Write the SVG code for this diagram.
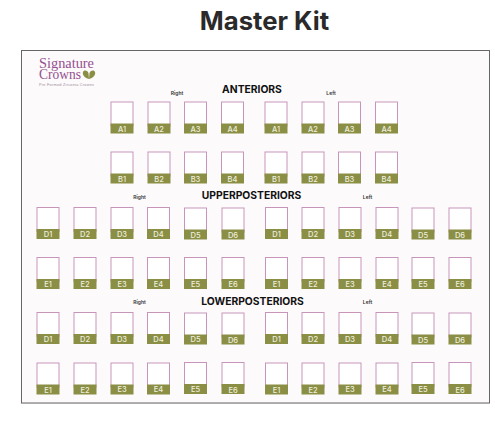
<svg xmlns="http://www.w3.org/2000/svg" width="495" height="424" viewBox="0 0 495 424">
<style>
.c{fill:#fff;stroke:#c795b9;stroke-width:1}
.b{fill:#8a8f45}
.l{font:500 7.500px Inter,"Liberation Sans",sans-serif;fill:#eeeedd;text-anchor:middle}
.h{font:700 10.300px Inter,"Liberation Sans",sans-serif;fill:#111;text-anchor:middle}
.s{font:600 5px Inter,"Liberation Sans",sans-serif;fill:#333;text-anchor:middle}
.g{font:300 15px "Liberation Serif",serif;fill:#94508f}
</style>
<defs>
<g id="k"><rect class="c" x="0.500" y="0.500" width="22" height="24"/><rect class="b" y="22" width="23" height="10"/></g>
</defs>
<rect width="495" height="424" fill="#fff"/>
<text x="264.500" y="30" font-family="Inter,'Liberation Sans',sans-serif" font-size="25.700" font-weight="700" fill="#2a2a2a" text-anchor="middle">Master Kit</text>
<g id="frame">
<rect x="21.500" y="50.500" width="468" height="352.500" fill="#fdfafc" stroke="#666" stroke-width="1"/>
<path d="M21 403.500H490" stroke="#aaa" fill="none"/>
</g>
<g id="logo">
<text class="g"><tspan x="39" y="68" textLength="55" lengthAdjust="spacingAndGlyphs">Signature</tspan><tspan x="39" y="79" textLength="42" lengthAdjust="spacingAndGlyphs">Crowns</tspan></text>
<path d="M83 72c1-2 4-2 5.500 1l.5 6c-4-1-7-4-6-7zM95 72c-1-2-4-2-5.500 1l-.5 6c4-1 7-4 6-7z" fill="#8a8f45"/>
<text x="39" y="86" font-family="'Liberation Sans',sans-serif" font-size="3.800" fill="#9a8a95" textLength="55">Pre Formed Zirconia Crowns</text>
</g>
<g id="titles">
<text class="h" x="252" y="93">ANTERIORS</text>
<text class="h" x="251.500" y="199">UPPERPOSTERIORS</text>
<text class="h" x="252.500" y="305">LOWERPOSTERIORS</text>
<text class="s" x="177" y="95">Right</text>
<text class="s" x="331" y="95">Left</text>
<text class="s" x="139.500" y="199">Right</text>
<text class="s" x="367.500" y="199">Left</text>
<text class="s" x="139.500" y="304">Right</text>
<text class="s" x="367.500" y="304">Left</text>
</g>
<g id="row-a-r">
<use href="#k" x="110.500" y="101.500"/><text class="l" x="122" y="131.500">A1</text>
<use href="#k" x="147.500" y="101.500"/><text class="l" x="159" y="131.500">A2</text>
<use href="#k" x="184" y="101.500"/><text class="l" x="195.500" y="131.500">A3</text>
<use href="#k" x="221" y="101.500"/><text class="l" x="232.500" y="131.500">A4</text>
</g>
<g id="row-a-l">
<use href="#k" x="264.500" y="101.500"/><text class="l" x="276" y="131.500">A1</text>
<use href="#k" x="301.500" y="101.500"/><text class="l" x="313" y="131.500">A2</text>
<use href="#k" x="338" y="101.500"/><text class="l" x="349.500" y="131.500">A3</text>
<use href="#k" x="375" y="101.500"/><text class="l" x="386.500" y="131.500">A4</text>
</g>
<g id="row-b-r">
<use href="#k" x="110.500" y="151.500"/><text class="l" x="122" y="181.500">B1</text>
<use href="#k" x="147.500" y="151.500"/><text class="l" x="159" y="181.500">B2</text>
<use href="#k" x="184" y="151.500"/><text class="l" x="195.500" y="181.500">B3</text>
<use href="#k" x="221" y="151.500"/><text class="l" x="232.500" y="181.500">B4</text>
</g>
<g id="row-b-l">
<use href="#k" x="264.500" y="151.500"/><text class="l" x="276" y="181.500">B1</text>
<use href="#k" x="301.500" y="151.500"/><text class="l" x="313" y="181.500">B2</text>
<use href="#k" x="338" y="151.500"/><text class="l" x="349.500" y="181.500">B3</text>
<use href="#k" x="375" y="151.500"/><text class="l" x="386.500" y="181.500">B4</text>
</g>
<g id="row-d-upper">
<use href="#k" x="36.500" y="207"/><text class="l" x="48" y="236.500">D1</text>
<use href="#k" x="73.500" y="207"/><text class="l" x="85" y="236.500">D2</text>
<use href="#k" x="110.500" y="207"/><text class="l" x="122" y="236.500">D3</text>
<use href="#k" x="147" y="207"/><text class="l" x="158.500" y="236.500">D4</text>
<use href="#k" x="184" y="207.500"/><text class="l" x="195.500" y="237.500">D5</text>
<use href="#k" x="221.500" y="207.500"/><text class="l" x="233" y="237.500">D6</text>
<use href="#k" x="265" y="207"/><text class="l" x="276.500" y="236.500">D1</text>
<use href="#k" x="301.500" y="207"/><text class="l" x="313" y="236.500">D2</text>
<use href="#k" x="338.500" y="207"/><text class="l" x="350" y="236.500">D3</text>
<use href="#k" x="375.500" y="207"/><text class="l" x="387" y="236.500">D4</text>
<use href="#k" x="411.500" y="207.500"/><text class="l" x="423" y="237.500">D5</text>
<use href="#k" x="448.500" y="207.500"/><text class="l" x="460" y="237.500">D6</text>
</g>
<g id="row-e-upper">
<use href="#k" x="36.500" y="257"/><text class="l" x="48" y="287">E1</text>
<use href="#k" x="73.500" y="257"/><text class="l" x="85" y="287">E2</text>
<use href="#k" x="110.500" y="257"/><text class="l" x="122" y="287">E3</text>
<use href="#k" x="147" y="257"/><text class="l" x="158.500" y="287">E4</text>
<use href="#k" x="184" y="257"/><text class="l" x="195.500" y="287">E5</text>
<use href="#k" x="221.500" y="257"/><text class="l" x="233" y="287">E6</text>
<use href="#k" x="265" y="257"/><text class="l" x="276.500" y="287">E1</text>
<use href="#k" x="301.500" y="257"/><text class="l" x="313" y="287">E2</text>
<use href="#k" x="338.500" y="257"/><text class="l" x="350" y="287">E3</text>
<use href="#k" x="375.500" y="257"/><text class="l" x="387" y="287">E4</text>
<use href="#k" x="411.500" y="257"/><text class="l" x="423" y="287">E5</text>
<use href="#k" x="448.500" y="257"/><text class="l" x="460" y="287">E6</text>
</g>
<g id="row-d-lower">
<use href="#k" x="36.500" y="312"/><text class="l" x="48" y="342">D1</text>
<use href="#k" x="73.500" y="312"/><text class="l" x="85" y="342">D2</text>
<use href="#k" x="110.500" y="312"/><text class="l" x="122" y="341.500">D3</text>
<use href="#k" x="147" y="312"/><text class="l" x="158.500" y="341.500">D4</text>
<use href="#k" x="184" y="312.500"/><text class="l" x="195.500" y="342">D5</text>
<use href="#k" x="221.500" y="312.500"/><text class="l" x="233" y="342.500">D6</text>
<use href="#k" x="265" y="312"/><text class="l" x="276.500" y="342">D1</text>
<use href="#k" x="301.500" y="312"/><text class="l" x="313" y="342">D2</text>
<use href="#k" x="338.500" y="312"/><text class="l" x="350" y="341.500">D3</text>
<use href="#k" x="375.500" y="312"/><text class="l" x="387" y="341.500">D4</text>
<use href="#k" x="411.500" y="312.500"/><text class="l" x="423" y="342.500">D5</text>
<use href="#k" x="448.500" y="312.500"/><text class="l" x="460" y="342.500">D6</text>
</g>
<g id="row-e-lower">
<use href="#k" x="36.500" y="362.500"/><text class="l" x="48" y="392.500">E1</text>
<use href="#k" x="73.500" y="362.500"/><text class="l" x="85" y="392.500">E2</text>
<use href="#k" x="110.500" y="362.500"/><text class="l" x="122" y="392">E3</text>
<use href="#k" x="147" y="362.500"/><text class="l" x="158.500" y="392">E4</text>
<use href="#k" x="184" y="362"/><text class="l" x="195.500" y="392">E5</text>
<use href="#k" x="221.500" y="362"/><text class="l" x="233" y="392.500">E6</text>
<use href="#k" x="265" y="362.500"/><text class="l" x="276.500" y="392.500">E1</text>
<use href="#k" x="301.500" y="362.500"/><text class="l" x="313" y="392.500">E2</text>
<use href="#k" x="338.500" y="362.500"/><text class="l" x="350" y="392">E3</text>
<use href="#k" x="375.500" y="362.500"/><text class="l" x="387" y="392">E4</text>
<use href="#k" x="411.500" y="362"/><text class="l" x="423" y="392">E5</text>
<use href="#k" x="448.500" y="362"/><text class="l" x="460" y="392.500">E6</text>
</g>
</svg>
